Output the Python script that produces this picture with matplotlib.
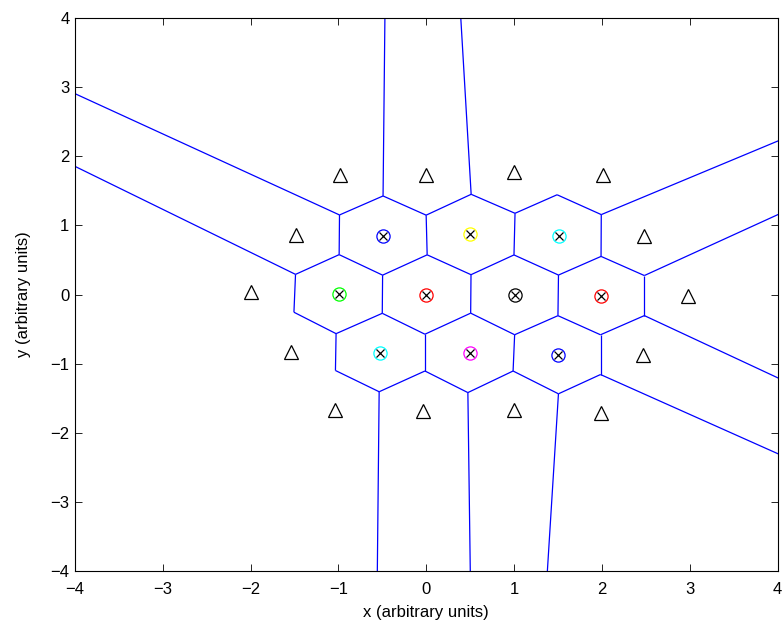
import numpy as np
import matplotlib
matplotlib.use("Agg")
import matplotlib.pyplot as plt
import matplotlib.tri as mtri
from matplotlib.collections import LineCollection

plt.rcParams['font.family'] = ['Liberation Sans', 'DejaVu Sans']
plt.rcParams['font.size'] = 12

# generator points (circled crosses)
seed_x = [-0.493, 0.501, 1.507, -0.999, 0.0, 1.014, 1.99, -0.524, 0.493, 1.5]
seed_y = [0.851, 0.871, 0.851, 0.007, 0.0, -0.007, -0.017, -0.842, -0.842, -0.876]
seed_colors = ['#0000ff', '#ffff00', '#00ffff', '#00ff00', '#ff0000',
               '#000000', '#ff0000', '#00ffff', '#ff00ff', '#0000ff']

# outer ring of points (triangles)
ring_x = [-0.98, 0.0, 0.994, 2.008, -1.488, 2.475, -1.997, 2.976,
          -1.538, 2.467, -1.036, -0.042, 0.994, 1.99]
ring_y = [1.73, 1.722, 1.768, 1.729, 0.858, 0.847, 0.04, -0.017,
          -0.828, -0.876, -1.671, -1.679, -1.668, -1.717]

ticks = [-4, -3, -2, -1, 0, 1, 2, 3, 4]

# finite voronoi edges: join circumcentres of neighbouring delaunay triangles
px = np.array(seed_x + ring_x)
py = np.array(seed_y + ring_y)
tri = mtri.Triangulation(px, py)
T = tri.triangles
ax_, ay_ = px[T[:, 0]], py[T[:, 0]]
bx_, by_ = px[T[:, 1]], py[T[:, 1]]
cx_, cy_ = px[T[:, 2]], py[T[:, 2]]
d = 2 * (ax_ * (by_ - cy_) + bx_ * (cy_ - ay_) + cx_ * (ay_ - by_))
a2 = ax_**2 + ay_**2
b2 = bx_**2 + by_**2
c2 = cx_**2 + cy_**2
ux = (a2 * (by_ - cy_) + b2 * (cy_ - ay_) + c2 * (ay_ - by_)) / d
uy = (a2 * (cx_ - bx_) + b2 * (ax_ - cx_) + c2 * (bx_ - ax_)) / d

segs = []
for i, nb in enumerate(tri.neighbors):
    for j in nb:
        if j > i:
            segs.append([(ux[i], uy[i]), (ux[j], uy[j])])

fig = plt.figure(figsize=(7.83, 6.32), dpi=100)
ax = fig.add_axes([0.0958, 0.0965, 0.8973, 0.875])

ax.add_collection(LineCollection(segs, colors='#0000ff', linewidths=0.9, zorder=2))

ax.plot(ring_x, ring_y, linestyle='none', marker='^', markersize=10.5,
        markerfacecolor='none', markeredgecolor='k', markeredgewidth=0.9, zorder=3)
for x, y, c in zip(seed_x, seed_y, seed_colors):
    ax.plot(x, y, linestyle='none', marker='o', markersize=9.5,
            markerfacecolor='none', markeredgecolor=c, markeredgewidth=0.9, zorder=3)
ax.plot(seed_x, seed_y, linestyle='none', marker='x', markersize=6.3,
        color='k', markeredgewidth=0.9, zorder=4)

ax.set_xlim(-4, 4)
ax.set_ylim(-4, 4)
ax.set_xticks(ticks)
ax.set_yticks(ticks)
ax.tick_params(direction='in', top=True, right=True, length=5, width=0.6,
               labelsize=12)
ax.tick_params(axis='x', pad=8)
ax.tick_params(axis='y', pad=4)
for s in ax.spines.values():
    s.set_linewidth(0.8)

ax.set_xlabel('x (arbitrary units)', fontsize=12)
ax.set_ylabel('y (arbitrary units)', fontsize=12)
ax.xaxis.set_label_coords(0.5, -0.061)
ax.yaxis.set_label_coords(-0.062, 0.5)

fig.savefig('out.png', dpi=100)
